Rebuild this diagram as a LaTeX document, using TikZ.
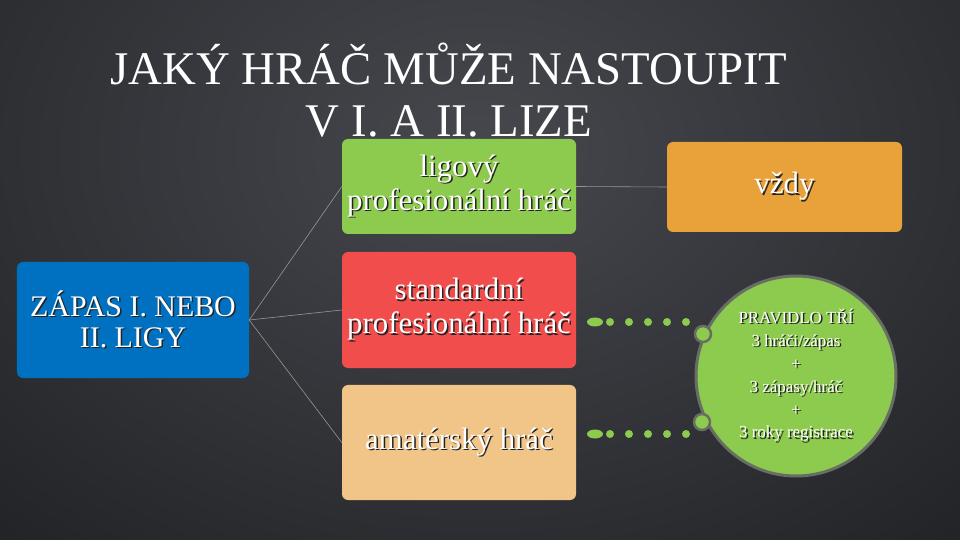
\documentclass[tikz,border=0pt]{standalone}
\usepackage{fontspec}
\setmainfont{Liberation Serif}
\definecolor{bgin}{RGB}{70,72,78}
\definecolor{bgout}{RGB}{26,27,30}
\definecolor{zapasblue}{RGB}{0,112,192}
\definecolor{ligagreen}{RGB}{141,203,78}
\definecolor{stdred}{RGB}{242,77,77}
\definecolor{amatan}{RGB}{241,196,136}
\definecolor{vzdyorange}{RGB}{233,162,58}
\definecolor{linegray}{RGB}{150,150,150}
\definecolor{rimgray}{RGB}{105,110,100}
\definecolor{shadowc}{RGB}{35,35,35}
\newcommand\shd[1]{\leavevmode\rlap{\kern1.5pt\raisebox{-1.5pt}{\textcolor{shadowc}{#1}}}#1}
\tikzset{
  box/.style={rounded corners=6bp,minimum width=234bp,inner sep=2bp,text=white,align=center,
    font=\fontsize{31}{34}\selectfont},
  titletext/.style={anchor=base,text=white,font=\fontsize{47}{52}\selectfont},
  conn/.style={draw=linegray,line width=0.6bp},
  dotrow/.style={draw=ligagreen,line width=8bp,line cap=round,dash pattern=on 0pt off 19bp},
  knob/.style={circle,draw=rimgray,line width=2.5bp,fill=ligagreen,minimum size=16bp,inner sep=0pt}
}
\begin{document}
\begin{tikzpicture}[x=1bp,y=-1bp]
        \useasboundingbox (0,0) rectangle (960,540);
        \begin{scope}
            \clip (0,0) rectangle (960,540);
            \shade[inner color=bgin,outer color=bgout] (-400,-500) rectangle (1360,800);
        \end{scope}

        \node (title1) at (449,85) [titletext]{JAKÝ HRÁČ MŮŽE NASTOUPIT};
        \node (title2) at (449,137) [titletext]{V I. A II. LIZE};

        \node (zapas) at (133,320) [box,fill=zapasblue,minimum width=232bp,minimum height=116bp,
            font=\fontsize{30}{31}\selectfont]{\shd{ZÁPAS I. NEBO}\\\shd{II. LIGY}};
        \node (lig) at (459,186.5) [box,fill=ligagreen,minimum height=95bp]{\shd{ligový}\\\shd{profesionální hráč}};
        \node (std) at (459,310) [box,fill=stdred,minimum height=116bp]{\shd{standardní}\\\shd{profesionální hráč}};
        \node (ama) at (459,442.5) [box,fill=amatan,minimum height=115bp]{\shd{amatérský hráč}};
        \node (vzdy) at (784.5,187) [box,fill=vzdyorange,minimum width=235bp,minimum height=90bp]{\shd{vždy}};

        \draw [conn](zapas.east) -- (lig.west);
        \draw [conn](zapas.east) -- (std.west);
        \draw [conn](zapas.east) -- (ama.west);
        \draw [conn](lig.east) -- (vzdy.west);

        \coordinate (row1) at (610,322);
        \coordinate (row1end) at (687,322);
        \coordinate (row2) at (610,434);
        \coordinate (row2end) at (687,434);
        \fill [ligagreen](595,322) ellipse (8 and 4.5);
        \fill [ligagreen](595,434) ellipse (8 and 4.5);
        \draw [dotrow](row1) -- (row1end);
        \draw [dotrow](row2) -- (row2end);

        \node (pravidlo) at (796,376) [circle,draw=rimgray,line width=3bp,fill=ligagreen,minimum size=200bp,
            inner sep=0pt,text=white,align=center,font=\fontsize{17}{23}\selectfont]
            {\shd{PRAVIDLO TŘÍ}\\\shd{3 hráči/zápas}\\\shd{+}\\\shd{3 zápasy/hráč}\\\shd{+}\\\shd{3 roky registrace}};
        \node (knob1) at (703,334) [knob]{};
        \node (knob2) at (702,422) [knob]{};

    \end{tikzpicture}
\end{document}
